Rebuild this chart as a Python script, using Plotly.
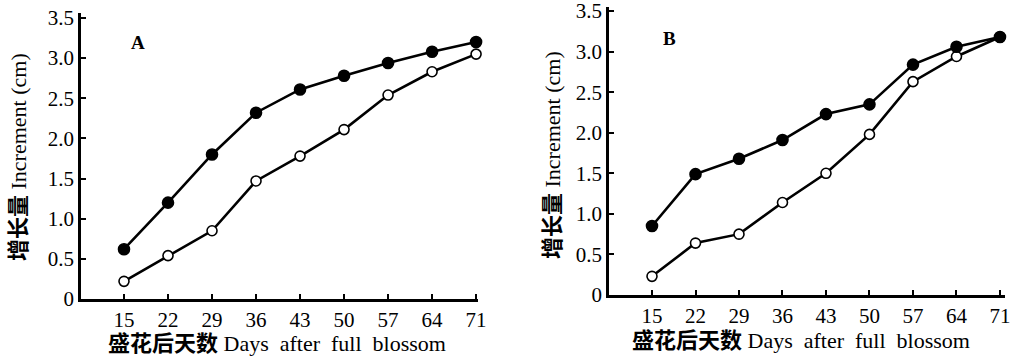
import plotly.graph_objects as go

days = [15, 22, 29, 36, 43, 50, 57, 64, 71]
a_filled = [0.62, 1.20, 1.80, 2.32, 2.61, 2.78, 2.94, 3.08, 3.20]
a_open = [0.22, 0.54, 0.85, 1.47, 1.78, 2.11, 2.54, 2.83, 3.05]
b_filled = [0.85, 1.49, 1.68, 1.91, 2.23, 2.35, 2.84, 3.06, 3.18]
b_open = [0.23, 0.64, 0.75, 1.14, 1.50, 1.98, 2.63, 2.94, 3.18]
y_ticks = [0, 0.5, 1.0, 1.5, 2.0, 2.5, 3.0, 3.5]
y_ticktext = ["0", "0.5", "1.0", "1.5", "2.0", "2.5", "3.0", "3.5"]
x_title = "<b>盛花后天数</b> Days  after  full  blossom"
y_title = "<b>增长量</b> Increment (cm)"
panel_labels = ["A", "B"]

FONT = "Liberation Serif, Noto Sans CJK SC, serif"

fig = go.Figure()

def add_series(y, xa, ya, filled):
    fig.add_trace(go.Scatter(
        x=days, y=y, xaxis=xa, yaxis=ya, mode="lines+markers",
        line=dict(color="black", width=2.6),
        marker=dict(size=11 if filled else 10,
                    color="black" if filled else "white",
                    line=dict(color="black", width=1.6)),
        showlegend=False, cliponaxis=False))

add_series(a_open, "x", "y", False)
add_series(a_filled, "x", "y", True)
add_series(b_open, "x2", "y2", False)
add_series(b_filled, "x2", "y2", True)

xcommon = dict(tickvals=days, ticks="inside", ticklen=5, tickwidth=2,
               tickcolor="black", showline=True, linecolor="black",
               linewidth=2.5, showgrid=False, zeroline=False,
               ticklabeloverflow="allow",
               tickfont=dict(family=FONT, size=21, color="black"))
ycommon = dict(tickvals=y_ticks, ticktext=y_ticktext, ticks="inside",
               ticklen=5, tickwidth=2, tickcolor="black", showline=True,
               linecolor="black", linewidth=2.5, showgrid=False,
               zeroline=False, ticklabeloverflow="allow",
               tickfont=dict(family=FONT, size=21, color="black"))

fig.update_layout(
    width=1015, height=358,
    margin=dict(l=0, r=0, t=0, b=0, autoexpand=False),
    paper_bgcolor="white", plot_bgcolor="white",
    xaxis=dict(domain=[0.0798, 0.4709], range=[8.16, 71.3], anchor="y", **xcommon),
    yaxis=dict(domain=[0.1648, 0.9637], range=[0, 3.562], anchor="x", **ycommon),
    xaxis2=dict(domain=[0.6, 0.9901], range=[8.08, 71.8], anchor="y2", **xcommon),
    yaxis2=dict(domain=[0.176, 0.9804], range=[0, 3.55], anchor="x2", **ycommon),
)

ann = []
ann.append(dict(text="<b>" + panel_labels[0] + "</b>", x=138/1015, y=1-42/358))
ann.append(dict(text="<b>" + panel_labels[1] + "</b>", x=669/1015, y=1-38/358))
for a in ann:
    a.update(xref="paper", yref="paper", showarrow=False,
             xanchor="center", yanchor="middle",
             font=dict(family=FONT, size=19, color="black"))
titles = [
    dict(text=x_title, x=277/1015, y=1-343/358, textangle=0),
    dict(text=x_title, x=801/1015, y=1-340/358, textangle=0),
    dict(text=y_title, x=18/1015, y=1-157/358, textangle=-90),
    dict(text=y_title, x=552/1015, y=1-155/358, textangle=-90),
]
for t in titles:
    t.update(xref="paper", yref="paper", showarrow=False,
             xanchor="center", yanchor="middle",
             font=dict(family=FONT, size=22, color="black"))
fig.update_layout(annotations=ann + titles)

fig.write_html("out.html", config={"displayModeBar": False})

with open("out.html", "r", encoding="utf-8") as f:
    html = f.read()
html = html.replace("<head>", "<head><style>html,body{margin:0;padding:0;overflow:hidden;}</style>", 1)
with open("out.html", "w", encoding="utf-8") as f:
    f.write(html)
